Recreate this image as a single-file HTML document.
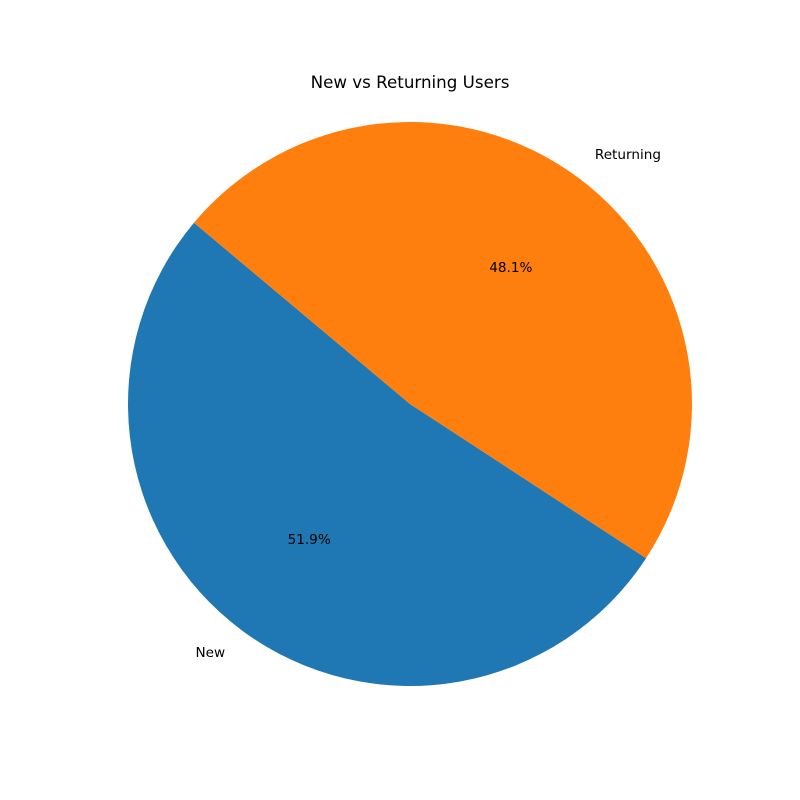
<!DOCTYPE html>
<html><head><meta charset="utf-8"><style>
html,body{margin:0;padding:0;background:#fff;}
svg{display:block;font-family:"DejaVu Sans","Liberation Sans",sans-serif;}
</style></head><body>
<svg id="chart" width="800" height="800">
<rect width="800" height="800" fill="#fff"/>
<text x="410" y="88" text-anchor="middle" font-size="16.7" fill="#000">New vs Returning Users</text>
<g id="slices"></g>
</svg>
<script>
const categories = ["New", "Returning"];
const values = [51.9, 48.1];
const colors = ["#1f77b4", "#ff7f0e"];
const cx = 410, cy = 404, r = 282, startAngle = 140;
const total = values.reduce((a, b) => a + b, 0);
const g = document.getElementById('slices');
const ns = 'http://www.w3.org/2000/svg';
function pt(deg, rad) { const a = deg * Math.PI / 180; return [cx + rad * Math.cos(a), cy - rad * Math.sin(a)]; }
let ang = startAngle;
values.forEach((v, i) => {
  const sweep = v / total * 360;
  const a0 = ang, a1 = ang + sweep;
  const p0 = pt(a0, r), p1 = pt(a1, r);
  const large = sweep > 180 ? 1 : 0;
  const path = document.createElementNS(ns, 'path');
  path.setAttribute('d', `M${cx},${cy} L${p0[0]},${p0[1]} A${r},${r} 0 ${large} 0 ${p1[0]},${p1[1]} Z`);
  path.setAttribute('fill', colors[i]);
  
  
  g.appendChild(path);
  const mid = (a0 + a1) / 2;
  const lp = pt(mid, r * 1.1);
  const lbl = document.createElementNS(ns, 'text');
  lbl.setAttribute('x', lp[0]); lbl.setAttribute('y', lp[1] + 4);
  lbl.setAttribute('font-size', '13.6');
  lbl.setAttribute('text-anchor', Math.cos(mid * Math.PI / 180) < 0 ? 'end' : 'start');
  lbl.textContent = categories[i];
  
  
  g.appendChild(lbl);
  const pp = pt(mid, r * 0.6);
  const pc = document.createElementNS(ns, 'text');
  pc.setAttribute('x', pp[0]); pc.setAttribute('y', pp[1] + 4);
  pc.setAttribute('font-size', '13.6');
  pc.setAttribute('text-anchor', 'middle');
  pc.textContent = (v / total * 100).toFixed(1) + '%';
  
  
  g.appendChild(pc);
  ang = a1;
});
</script>
</body></html>
